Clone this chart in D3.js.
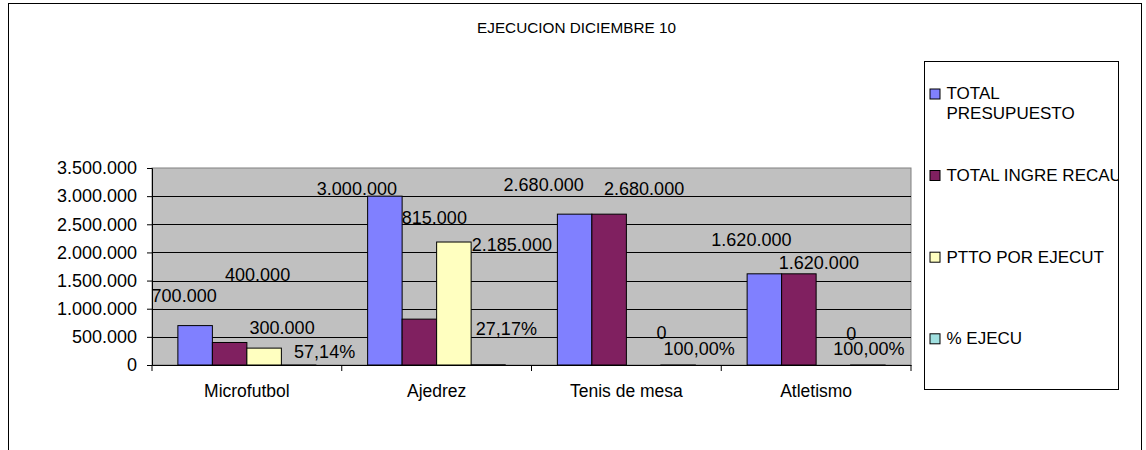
<!DOCTYPE html>
<html>
<head>
<meta charset="utf-8">
<script src="https://cdn.jsdelivr.net/npm/d3@7/dist/d3.min.js"></script>
<style>
  html, body { margin: 0; padding: 0; background: #fff; }
  svg { display: block; font-family: "Liberation Sans", Arial, sans-serif; }
</style>
</head>
<body>
<svg id="chart" width="1146" height="450"></svg>
<script>
// data
const categories = ["Microfutbol", "Ajedrez", "Tenis de mesa", "Atletismo"];
const seriesNames = ["TOTAL PRESUPUESTO", "TOTAL INGRE RECAU", "PTTO POR EJECUT", "% EJECU"];
const totalPresupuesto = [700000, 3000000, 2680000, 1620000];
const totalIngreRecau = [400000, 815000, 2680000, 1620000];
const pttoPorEjecut = [300000, 2185000, 0, 0];
const pctEjecu = [0.5714, 0.2717, 1, 1];
const yTicks = [0, 500000, 1000000, 1500000, 2000000, 2500000, 3000000, 3500000];

// label nudges (dx, dy) from the default spot above each bar, per category then series
const labelNudge = [
  [[-11, -20], [28, -58], [18, -10], [26, -3]],
  [[-28, 3], [15, -91], [58, 13], [18, -26]],
  [[-31, -19], [35, -15], [18, -22], [21, -6]],
  [[-13, -24], [20, -1], [18, -21], [1, -6]]
];

const colors = ["#8080ff", "#802060", "#ffffc0", "#a0e0e0"];

const svg = d3.select("#chart");
const M = { left: 152, right: 911, top: 168, bottom: 365 };

// outer chart border (bottom edge runs off the picture)
svg.append("rect").attr("x", 8.5).attr("y", 3.5).attr("width", 1133).attr("height", 480)
  .attr("fill", "#fff").attr("stroke", "#000").attr("stroke-width", 1);

svg.append("text").attr("x", 576.5).attr("y", 28).attr("dy", "0.35em")
  .attr("text-anchor", "middle").attr("font-size", 15.3).attr("fill", "#000")
  .text("EJECUCION DICIEMBRE 10");

const x0 = d3.scaleBand().domain(categories).range([M.left, M.right]).paddingInner(0).paddingOuter(0);
const x1 = d3.scaleBand().domain(seriesNames).range([0, x0.bandwidth()]).paddingInner(0).paddingOuter(0.75);
const y = d3.scaleLinear().domain([0, 3500000]).range([M.bottom, M.top]);

// plot area
svg.append("rect").attr("x", M.left).attr("y", M.top)
  .attr("width", M.right - M.left).attr("height", M.bottom - M.top)
  .attr("fill", "#c0c0c0").attr("stroke", "#808080").attr("stroke-width", 1);

svg.append("g").selectAll("line").data(yTicks.filter(d => d > 0 && d < 3500000)).join("line")
  .attr("x1", M.left).attr("x2", M.right)
  .attr("y1", d => Math.round(y(d)) + 0.5).attr("y2", d => Math.round(y(d)) + 0.5)
  .attr("stroke", "#000").attr("stroke-width", 1);

const fmtNum = d => d3.format(",")(d).replace(/,/g, ".");
const fmtPct = d => d3.format(".2f")(d * 100).replace(".", ",") + "%";

const rows = categories.map((c, i) => ({
  cat: c, i,
  vals: [totalPresupuesto[i], totalIngreRecau[i], pttoPorEjecut[i], pctEjecu[i]]
}));

const groups = svg.append("g").selectAll("g").data(rows).join("g")
  .attr("transform", d => `translate(${x0(d.cat)},0)`);

groups.selectAll("rect").data(d => d.vals.map((v, s) => ({ v, s }))).join("rect")
  .attr("x", d => x1(seriesNames[d.s]))
  .attr("y", d => y(d.v))
  .attr("width", x1.bandwidth())
  .attr("height", d => y(0) - y(d.v))
  .attr("fill", d => colors[d.s])
  .attr("stroke", "#000").attr("stroke-width", 1);

// axes
const gy = svg.append("g").attr("transform", `translate(${M.left},0)`)
  .call(d3.axisLeft(y).tickValues(yTicks).tickFormat(fmtNum).tickSize(5).tickPadding(10));
const gx = svg.append("g").attr("transform", `translate(0,${M.bottom})`)
  .call(d3.axisBottom(x0).tickSize(0).tickPadding(20));
gx.selectAll("line.cut").data(d3.range(categories.length + 1)).join("line").attr("class", "cut")
  .attr("x1", i => M.left + i * x0.step()).attr("x2", i => M.left + i * x0.step())
  .attr("y1", 0).attr("y2", 6).attr("stroke", "#000");
[gx, gy].forEach(g => {
  g.selectAll(".domain").attr("stroke", "#000");
  g.selectAll(".tick line").attr("stroke", "#000");
  g.selectAll("text").attr("fill", "#000").attr("font-family", "Liberation Sans, Arial, sans-serif");
});
gy.selectAll("text").attr("font-size", 18);
gx.selectAll("text").attr("font-size", 17.5);

// data labels
groups.selectAll("text.lbl").data(d => d.vals.map((v, s) => ({ v, s, i: d.i }))).join("text")
  .attr("class", "lbl")
  .attr("x", d => x1(seriesNames[d.s]) + x1.bandwidth() / 2 + labelNudge[d.i][d.s][0])
  .attr("y", d => y(d.v) - 10 + labelNudge[d.i][d.s][1])
  .attr("dy", "0.35em").attr("text-anchor", "middle")
  .attr("font-size", 18).attr("fill", "#000")
  .text(d => d.s === 3 ? fmtPct(d.v) : fmtNum(d.v));

// legend
const L = { x: 924.5, y: 61.5, w: 194, h: 328 };
svg.append("clipPath").attr("id", "legclip").append("rect")
  .attr("x", L.x).attr("y", L.y).attr("width", L.w).attr("height", L.h);
svg.append("rect").attr("x", L.x).attr("y", L.y).attr("width", L.w).attr("height", L.h)
  .attr("fill", "#fff").attr("stroke", "#000").attr("stroke-width", 1);
const legY = [93.5, 175, 256.7, 338.3];
const leg = svg.append("g").attr("clip-path", "url(#legclip)").selectAll("g")
  .data(seriesNames).join("g")
  .attr("transform", (d, i) => `translate(${L.x + 5},${legY[i]})`);
leg.append("rect").attr("x", 0.5).attr("y", -4.5).attr("width", 10).attr("height", 10)
  .attr("fill", (d, i) => colors[i]).attr("stroke", "#000").attr("stroke-width", 1);
leg.append("text").attr("x", 17).attr("font-size", 17).attr("fill", "#000")
  .each(function (d) {
    const lines = d === "TOTAL PRESUPUESTO" ? ["TOTAL", "PRESUPUESTO"] : [d];
    d3.select(this).selectAll("tspan").data(lines).join("tspan")
      .attr("x", 17).attr("y", (t, k) => k * 20).attr("dy", "0.35em").text(t => t);
  });
</script>
</body>
</html>
